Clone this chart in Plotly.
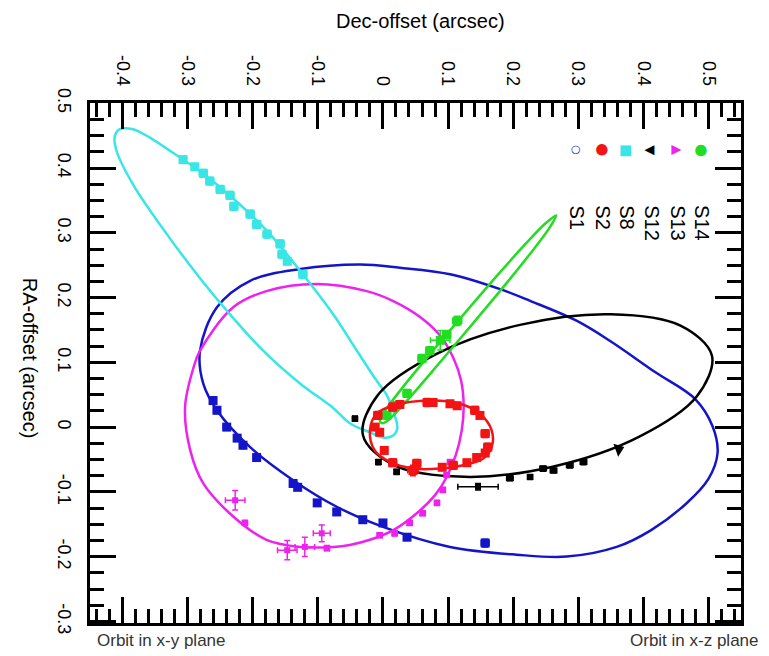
import plotly.graph_objects as go

# ---------------- orbit curves (Dec-offset, RA-offset) in arcsec ----------------
S1_orbit_dec = [-0.281, -0.276, -0.255, -0.204, -0.138, -0.071, 0.000, 0.103, 0.205, 0.282, 0.359, 0.412,
                0.466, 0.500, 0.514, 0.506, 0.480, 0.418, 0.349, 0.298, 0.226, 0.180, 0.103, 0.026,
                -0.035, -0.127, -0.204, -0.255, -0.281]
S1_orbit_ra = [0.118, 0.067, 0.026, -0.031, -0.082, -0.123, -0.154, -0.185, -0.197, -0.200, -0.185, -0.159,
               -0.118, -0.080, -0.040, 0.002, 0.043, 0.085, 0.133, 0.164, 0.195, 0.213, 0.236, 0.246,
               0.251, 0.244, 0.226, 0.185, 0.118]

S2_orbit_dec = [-0.020, -0.0097, 0.0158, 0.0722, 0.1183, 0.149, 0.167, 0.167, 0.154, 0.1233, 0.0876,
                0.0465, 0.0108, -0.0123, -0.020]
S2_orbit_ra = [-0.005, 0.0206, 0.0334, 0.0411, 0.036, 0.0206, -0.005, -0.031, -0.0486, -0.0589, -0.064,
               -0.064, -0.0538, -0.0366, -0.005]

S8_orbit_dec = [-0.412, -0.404, -0.384, -0.358, -0.332, -0.281, -0.230, -0.178, -0.127, -0.077, -0.040,
                -0.012, 0.006, 0.017, 0.022, 0.014, 0.000, -0.020, -0.051, -0.077, -0.127, -0.184,
                -0.240, -0.281, -0.332, -0.384, -0.409, -0.412]
S8_orbit_ra = [0.449, 0.460, 0.460, 0.447, 0.430, 0.395, 0.353, 0.303, 0.241, 0.175, 0.118, 0.075, 0.049,
               0.021, -0.002, -0.014, -0.016, -0.008, 0.006, 0.030, 0.067, 0.118, 0.180, 0.230, 0.298,
               0.375, 0.426, 0.449]

S12_orbit_dec = [0.5054, 0.4819, 0.3931, 0.2624, 0.1249, 0.0177, -0.0307, -0.0072, 0.0816, 0.2123,
                 0.3498, 0.4570, 0.5054]
S12_orbit_ra = [0.1102, 0.0472, -0.0152, -0.0608, -0.0768, -0.0592, -0.0126, 0.0503, 0.1128, 0.1583,
                0.1743, 0.1568, 0.1102]

S13_orbit_dec = [-0.281, -0.230, -0.179, -0.102, -0.025, 0.015, 0.057, 0.088, 0.108, 0.120, 0.124, 0.121,
                 0.112, 0.098, 0.080, 0.052, 0.016, -0.020, -0.051, -0.076, -0.127, -0.179, -0.230,
                 -0.276, -0.296, -0.304, -0.291, -0.281]
S13_orbit_ra = [0.118, 0.185, 0.210, 0.221, 0.210, 0.195, 0.170, 0.141, 0.107, 0.072, 0.033, -0.005,
                -0.043, -0.077, -0.105, -0.133, -0.159, -0.174, -0.182, -0.185, -0.185, -0.174, -0.138,
                -0.087, -0.036, 0.031, 0.092, 0.118]

S14_orbit_dec = [0.266, 0.249, 0.220, 0.178, 0.124, 0.070, 0.030, 0.005, -0.005, -0.002, 0.006, 0.016,
                 0.044, 0.085, 0.139, 0.192, 0.231, 0.256, 0.266]
S14_orbit_ra = [0.327, 0.314, 0.284, 0.237, 0.174, 0.110, 0.061, 0.028, 0.013, 0.006, 0.009, 0.018,
                0.049, 0.097, 0.161, 0.225, 0.274, 0.308, 0.327]

# ---------------- measured positions ----------------
S1_dec = [-0.261, -0.255, -0.240, -0.224, -0.215, -0.194, -0.138, -0.131, -0.101, -0.071, -0.031, 0.000, 0.037, 0.157]
S1_ra = [0.041, 0.026, 0.000, -0.017, -0.028, -0.047, -0.087, -0.093, -0.117, -0.131, -0.143, -0.148, -0.170, -0.179]
S1_err = [0.005, 0.005, 0.005, 0.005, 0.005, 0.005, 0.005, 0.004, 0.004, 0.004, 0.004, 0.004, 0.004, 0.006]

S2_dec = [-0.012, -0.008, -0.005, 0.015, 0.026, 0.068, 0.077, 0.103, 0.114, 0.141, 0.149, 0.157, 0.161,
          0.157, 0.144, 0.129, 0.108, 0.091, 0.052, 0.046, 0.015, 0.002]
S2_ra = [0.000, 0.018, -0.008, 0.031, 0.035, 0.038, 0.038, 0.036, 0.033, 0.026, 0.018, -0.010, -0.031,
         -0.040, -0.047, -0.055, -0.059, -0.062, -0.056, -0.067, -0.055, -0.036]
S2_err = [0.005, 0.006, 0.005, 0.006, 0.005, 0.006, 0.005, 0.005, 0.005, 0.006, 0.005, 0.006, 0.006,
          0.005, 0.005, 0.005, 0.006, 0.005, 0.006, 0.008, 0.006, 0.005]

S8_dec = [-0.307, -0.289, -0.276, -0.266, -0.250, -0.235, -0.229, -0.204, -0.194, -0.178, -0.158, -0.155, -0.147, -0.123]
S8_ra = [0.413, 0.402, 0.392, 0.380, 0.367, 0.358, 0.341, 0.329, 0.313, 0.298, 0.283, 0.267, 0.256, 0.236]
S8_err = [0.005, 0.005, 0.006, 0.006, 0.006, 0.006, 0.006, 0.006, 0.006, 0.006, 0.006, 0.006, 0.005, 0.006]

S12_dec = [-0.043, -0.007, 0.021, 0.146, 0.195, 0.226, 0.246, 0.262, 0.287, 0.308]
S12_ra = [0.013, -0.054, -0.069, -0.092, -0.079, -0.077, -0.064, -0.067, -0.059, -0.054]
S12_errx = [0.004, 0.004, 0.004, 0.031, 0.005, 0.004, 0.005, 0.005, 0.005, 0.005]
S12_erry = [0.004, 0.004, 0.004, 0.005, 0.004, 0.004, 0.004, 0.004, 0.004, 0.004]
S12_arrow_dec = [0.362]
S12_arrow_ra = [-0.034]

S13_dec = [-0.227, -0.212, -0.147, -0.120, -0.094, -0.086, -0.005, 0.018, 0.041, 0.061, 0.083, 0.092, 0.098, 0.103]
S13_ra = [-0.113, -0.148, -0.190, -0.185, -0.164, -0.187, -0.167, -0.164, -0.148, -0.133, -0.117, -0.097, -0.074, -0.054]
S13_err = [0.015, 0.004, 0.015, 0.015, 0.013, 0.004, 0.004, 0.004, 0.004, 0.004, 0.004, 0.004, 0.004, 0.004]

S14_dec = [0.114, 0.098, 0.088, 0.072, 0.060, 0.037, 0.018, 0.006]
S14_ra = [0.164, 0.143, 0.134, 0.118, 0.106, 0.052, 0.033, 0.018]
S14_err = [0.007, 0.006, 0.015, 0.006, 0.006, 0.006, 0.006, 0.006]

# ---------------- labels ----------------
star_names = ["S1", "S2", "S8", "S12", "S13", "S14"]
legend_symbols = ["○", "●", "■", "▼", "▲", "●"]
x_tick_vals = [-0.4, -0.3, -0.2, -0.1, 0, 0.1, 0.2, 0.3, 0.4, 0.5]
x_tick_text = ["-0.4", "-0.3", "-0.2", "-0.1", "0", "0.1", "0.2", "0.3", "0.4", "0.5"]
y_tick_vals = [0.5, 0.4, 0.3, 0.2, 0.1, 0, -0.1, -0.2, -0.3]
y_tick_text = ["0.5", "0.4", "0.3", "0.2", "0.1", "0", "-0.1", "-0.2", "-0.3"]

colors = {"S1": "#1414c8", "S2": "#f21414", "S8": "#38e6e6", "S12": "#000000",
          "S13": "#ee22ee", "S14": "#22dd22"}

FONT = "Liberation Sans, Arial, Helvetica, sans-serif"

fig = go.Figure()

orbits = [
    ("S1", S1_orbit_dec, S1_orbit_ra),
    ("S13", S13_orbit_dec, S13_orbit_ra),
    ("S8", S8_orbit_dec, S8_orbit_ra),
    ("S12", S12_orbit_dec, S12_orbit_ra),
    ("S14", S14_orbit_dec, S14_orbit_ra),
    ("S2", S2_orbit_dec, S2_orbit_ra),
]
for name, xs, ys in orbits:
    fig.add_trace(go.Scatter(x=xs, y=ys, mode="lines", showlegend=False,
                             line=dict(color=colors[name], width=2.5, shape="spline", smoothing=1.0),
                             hoverinfo="skip"))

points = [
    ("S1", S1_dec, S1_ra, S1_err, S1_err, 9),
    ("S8", S8_dec, S8_ra, S8_err, S8_err, 9),
    ("S13", S13_dec, S13_ra, S13_err, S13_err, 6),
    ("S12", S12_dec, S12_ra, S12_errx, S12_erry, 6),
    ("S14", S14_dec, S14_ra, S14_err, S14_err, 9),
    ("S2", S2_dec, S2_ra, S2_err, S2_err, 9),
]
for name, xs, ys, ex, ey, sz in points:
    c = colors[name]
    fig.add_trace(go.Scatter(
        x=xs, y=ys, mode="markers", showlegend=False, name=name,
        marker=dict(symbol="square", size=sz, color=c),
        error_x=dict(type="data", array=ex, color=c, thickness=1.5, width=3),
        error_y=dict(type="data", array=ey, color=c, thickness=1.5, width=3),
    ))

fig.add_trace(go.Scatter(x=S12_arrow_dec, y=S12_arrow_ra, mode="markers", showlegend=False,
                         marker=dict(symbol="triangle-right", size=12, color="black", angle=-20)))

axis_common = dict(
    showline=True, linewidth=2.5, linecolor="black", mirror="ticks",
    ticks="inside", ticklen=26, tickwidth=2.5, tickcolor="black",
    showgrid=False, zeroline=False, tickangle=90,
    tickfont=dict(family=FONT, size=18, color="black"),
)

fig.update_layout(
    width=769, height=656,
    margin=dict(l=90, r=28, t=103, b=33),
    paper_bgcolor="white", plot_bgcolor="white",
    font=dict(family=FONT, color="black"),
    showlegend=False,
    xaxis=dict(range=[-0.45, 0.55], side="top", tickmode="array", tickvals=x_tick_vals, ticktext=x_tick_text,
               minor=dict(tickmode="linear", tick0=0, dtick=0.02, ticks="inside", ticklen=14,
                          tickwidth=2.5, tickcolor="black"),
               ticklabelstandoff=8, **axis_common),
    yaxis=dict(range=[-0.3025, 0.5005], tickmode="array", tickvals=y_tick_vals, ticktext=y_tick_text,
               minor=dict(tickmode="linear", tick0=0, dtick=0.025, ticks="inside", ticklen=14,
                          tickwidth=2.5, tickcolor="black"),
               ticklabelstandoff=8, **axis_common),
)

annotations = [
    dict(text="Dec-offset (arcsec)", xref="paper", yref="paper", x=0.507, y=1.157,
         showarrow=False, font=dict(size=20, family=FONT), xanchor="center", yanchor="middle"),
    dict(text="RA-offset (arcsec)", xref="paper", yref="paper", x=-0.092, y=0.51,
         showarrow=False, font=dict(size=20, family=FONT), textangle=90,
         xanchor="center", yanchor="middle"),
    dict(text="Orbit in x-y plane", xref="paper", yref="paper", x=0.008, y=-0.033,
         showarrow=False, font=dict(size=17, family=FONT, color="#333333"),
         xanchor="left", yanchor="middle"),
    dict(text="Orbit in x-z plane", xref="paper", yref="paper", x=1.03, y=-0.033,
         showarrow=False, font=dict(size=17, family=FONT, color="#333333"),
         xanchor="right", yanchor="middle"),
]

legend_x = [0.748, 0.788, 0.825, 0.862, 0.902, 0.939]
legend_sizes = [11, 15, 14, 13, 13, 15]
for i, name in enumerate(star_names):
    annotations.append(dict(text=legend_symbols[i], xref="paper", yref="paper", x=legend_x[i], y=0.909,
                            showarrow=False, textangle=90,
                            font=dict(size=legend_sizes[i], color=colors[name], family="DejaVu Sans"),
                            xanchor="center", yanchor="middle"))
    annotations.append(dict(text=name, xref="paper", yref="paper", x=legend_x[i], y=0.807,
                            showarrow=False, textangle=90,
                            font=dict(size=20, color="black", family=FONT),
                            xanchor="center", yanchor="top"))

fig.update_layout(annotations=annotations)

fig.write_html("out.html")
